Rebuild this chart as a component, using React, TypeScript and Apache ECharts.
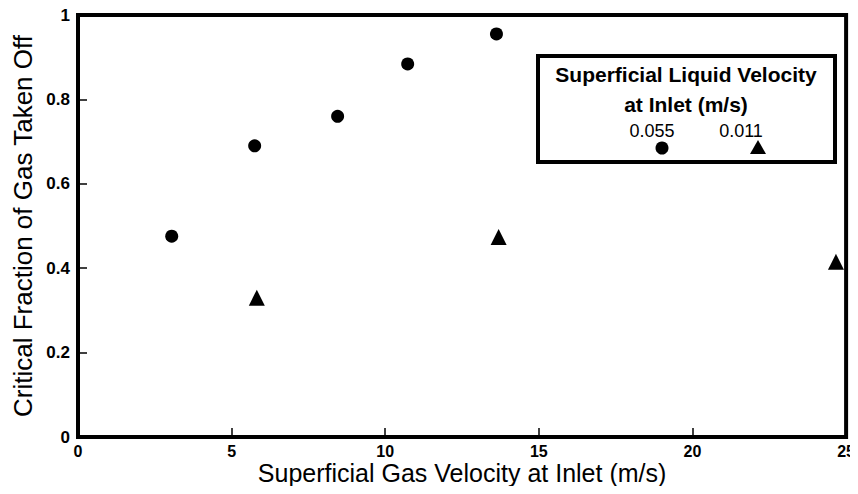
import React, { useEffect, useRef } from "react";
import * as echarts from "echarts";

const circleSeries: [number, number][] = [
  [3.05, 0.476],
  [5.75, 0.69],
  [8.45, 0.76],
  [10.73, 0.884],
  [13.62, 0.955],
];
const triangleSeries: [number, number][] = [
  [5.82, 0.33],
  [13.69, 0.474],
  [24.67, 0.415],
];
const legendTitle = ["Superficial Liquid Velocity", "at Inlet (m/s)"];
const legendLabels = ["0.055", "0.011"];
const xTitle = "Superficial Gas Velocity at Inlet (m/s)";
const yTitle = "Critical Fraction of Gas Taken Off";

export default function App() {
  const ref = useRef<HTMLDivElement>(null);
  useEffect(() => {
    if (!ref.current) return;
    const chart = echarts.init(ref.current, null, { renderer: "svg" });
    const sans = "'Liberation Sans', Arial, sans-serif";
    chart.setOption({
      animation: false,
      backgroundColor: "#fff",
      grid: {
        left: 78,
        right: 11,
        top: 15,
        bottom: 57,
        show: true,
        borderColor: "#000",
        borderWidth: 4,
      },
      xAxis: {
        type: "value",
        min: 0,
        max: 25,
        interval: 5,
        splitLine: { show: false },
        axisLine: { show: false },
        axisTick: { show: true, inside: true, length: 9, lineStyle: { color: "#000", width: 1.5 } },
        axisLabel: { color: "#000", fontFamily: sans, fontWeight: "bold", fontSize: 16, margin: 6 },
        name: xTitle,
        nameLocation: "middle",
        nameGap: 23,
        nameMoveOverlap: false,
        nameTextStyle: { color: "#000", fontFamily: sans, fontSize: 25 },
      },
      yAxis: {
        type: "value",
        min: 0,
        max: 1,
        interval: 0.2,
        splitLine: { show: false },
        axisLine: { show: false },
        axisTick: { show: true, inside: true, length: 9, lineStyle: { color: "#000", width: 1.5 } },
        axisLabel: { color: "#000", fontFamily: sans, fontWeight: "bold", fontSize: 17, margin: 8 },
        name: yTitle,
        nameLocation: "middle",
        nameGap: 42,
        nameMoveOverlap: false,
        nameTextStyle: { color: "#000", fontFamily: sans, fontSize: 26 },
      },
      series: [
        {
          name: legendLabels[0],
          type: "scatter",
          data: circleSeries,
          symbol: "circle",
          symbolSize: 13,
          itemStyle: { color: "#000", opacity: 1 },
        },
        {
          name: legendLabels[1],
          type: "scatter",
          data: triangleSeries,
          symbol: "triangle",
          symbolSize: 16,
          itemStyle: { color: "#000", opacity: 1 },
        },
      ],
      graphic: [
        {
          type: "rect",
          shape: { x: 538, y: 56, width: 297, height: 106 },
          style: { fill: "#fff", stroke: "#000", lineWidth: 4 },
        },
        {
          type: "text",
          x: 686,
          y: 74,
          style: {
            text: legendTitle[0],
            fontFamily: sans,
            fontWeight: "bold",
            fontSize: 21,
            fill: "#000",
            align: "center",
            verticalAlign: "middle",
          },
        },
        {
          type: "text",
          x: 686,
          y: 104,
          style: {
            text: legendTitle[1],
            fontFamily: sans,
            fontWeight: "bold",
            fontSize: 21,
            fill: "#000",
            align: "center",
            verticalAlign: "middle",
          },
        },
        {
          type: "text",
          x: 652,
          y: 131,
          style: {
            text: legendLabels[0],
            fontFamily: sans,
            fontSize: 18,
            fill: "#000",
            align: "center",
            verticalAlign: "middle",
          },
        },
        {
          type: "text",
          x: 741,
          y: 131,
          style: {
            text: legendLabels[1],
            fontFamily: sans,
            fontSize: 18,
            fill: "#000",
            align: "center",
            verticalAlign: "middle",
          },
        },
        {
          type: "circle",
          shape: { cx: 662, cy: 148, r: 6.5 },
          style: { fill: "#000" },
        },
        {
          type: "polygon",
          shape: { points: [[758, 140], [766, 154], [750, 154]] },
          style: { fill: "#000" },
        },
      ],
    });
    return () => chart.dispose();
  }, []);
  return <div ref={ref} style={{ width: 858, height: 494, margin: -8 }} />;
}
